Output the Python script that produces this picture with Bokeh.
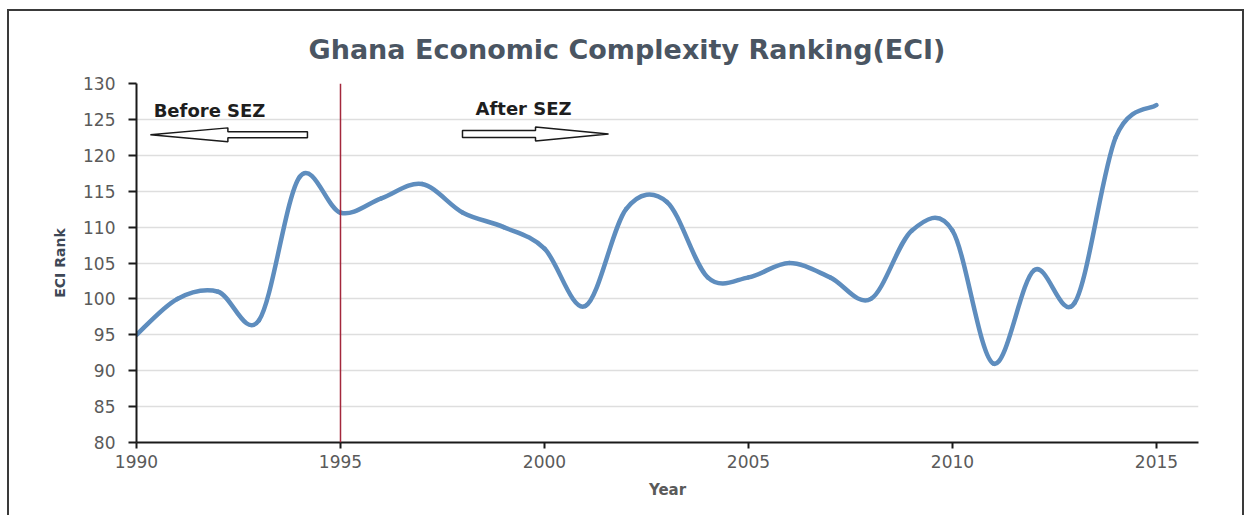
import numpy as np
from bokeh.plotting import figure
from bokeh.models import Range1d, FixedTicker, Span
from bokeh.core.properties import value
from bokeh.embed import file_html
from bokeh.resources import INLINE

# ---- data ----
years = [1990, 1991, 1992, 1993, 1994, 1995, 1996, 1997, 1998, 1999, 2000, 2001, 2002,
         2003, 2004, 2005, 2006, 2007, 2008, 2009, 2010, 2011, 2012, 2013, 2014, 2015]
eci_rank = [95, 100, 101, 97, 117, 112, 114, 116, 112, 110, 107, 99, 112.5,
            113.5, 103, 103, 105, 103, 100, 109.5, 109.5, 91, 104, 99.5, 122.5, 127]
x_ticks = [1990, 1995, 2000, 2005, 2010, 2015]
y_ticks = [80, 85, 90, 95, 100, 105, 110, 115, 120, 125, 130]
sez_year = 1995
title_text = "Ghana Economic Complexity Ranking(ECI)"
x_label = "Year"
y_label = "ECI Rank"
before_label = "Before SEZ"
after_label = "After SEZ"

# ---- figure ----
p = figure(width=1237, height=510,
           x_range=Range1d(1990, 2016.03), y_range=Range1d(80, 130),
           output_backend="svg", toolbar_location=None,
           min_border_left=127, min_border_right=48,
           min_border_top=72, min_border_bottom=79)
p.margin = (9, 0, 0, 7)
p.styles = {"border-top": "2px solid #3a3a3a", "border-left": "2px solid #3a3a3a",
            "border-right": "2px solid #3a3a3a"}
p.outline_line_color = None
p.background_fill_color = "white"
p.border_fill_color = "white"

p.title.text = title_text
p.title.align = "left"
p.title.offset = 172
p.title.standoff = 37
p.title.text_font = "DejaVu Sans"
p.title.text_font_style = "bold"
p.title.text_font_size = "27px"
p.title.text_color = "#4a5562"

# axes
for ax in (p.xaxis, p.yaxis):
    ax.axis_line_color = "#1a1a1a"
    ax.axis_line_width = 2
    ax.major_tick_line_color = "#1a1a1a"
    ax.major_tick_line_width = 2
    ax.minor_tick_line_color = None
    ax.major_tick_in = 0
    ax.major_label_text_font = "DejaVu Sans"
    ax.major_label_text_font_size = "17px"
    ax.major_label_text_color = "#5a5a5a"
    ax.axis_label_text_font = "DejaVu Sans"
    ax.axis_label_text_font_style = "bold"

p.xaxis.ticker = FixedTicker(ticks=x_ticks)
p.yaxis.ticker = FixedTicker(ticks=y_ticks)
p.xaxis.major_tick_out = 6
p.yaxis.major_tick_out = 8
p.xaxis.major_label_standoff = 6
p.yaxis.major_label_standoff = 13
p.xaxis.axis_label = x_label
p.xaxis.axis_label_text_font_size = "15px"
p.xaxis.axis_label_text_color = "#5a5a5a"
p.xaxis.axis_label_standoff = 10
p.yaxis.axis_label = y_label
p.yaxis.axis_label_text_font_size = "14px"
p.yaxis.axis_label_text_color = "#3e4856"
p.yaxis.axis_label_standoff = 12

p.xgrid.grid_line_color = None
p.ygrid.grid_line_color = "#dedede"
p.ygrid.grid_line_width = 1.5

# SEZ marker line
p.add_layout(Span(location=sez_year, dimension="height", line_color="#a3283c", line_width=1.5))

# smoothed line (Excel-style Catmull-Rom Bezier segments)
xa = np.array(years, dtype=float)
ya = np.array(eci_rank, dtype=float)
xp = np.concatenate([[xa[0]], xa, [xa[-1]]])
yp = np.concatenate([[ya[0]], ya, [ya[-1]]])
n = len(xa)
x0, y0 = xa[:-1], ya[:-1]
x1, y1 = xa[1:], ya[1:]
cx0 = x0 + (xp[2:n + 1] - xp[0:n - 1]) / 6.0
cy0 = y0 + (yp[2:n + 1] - yp[0:n - 1]) / 6.0
cx1 = x1 - (xp[3:n + 2] - xp[1:n]) / 6.0
cy1 = y1 - (yp[3:n + 2] - yp[1:n]) / 6.0
p.bezier(x0=x0, y0=y0, x1=x1, y1=y1, cx0=cx0, cy0=cy0, cx1=cx1, cy1=cy1,
         line_color="#5e8dbe", line_width=4.5, line_cap="round")

# hollow block arrows (annotation positions in data units)
def arrow(tail, tip, yc, shaft_h, head_h, head_len):
    d = 1.0 if tip > tail else -1.0
    base = tip - d * head_len
    xs = [tail, base, base, tip, base, base, tail]
    ys = [yc + shaft_h, yc + shaft_h, yc + head_h, yc, yc - head_h, yc - shaft_h, yc - shaft_h]
    return xs, ys

bx, by = arrow(1994.19, 1990.34, 122.85, 0.42, 0.97, 1.9)
ax_, ay_ = arrow(1997.99, 2001.57, 122.97, 0.5, 0.97, 1.79)
for xs, ys in ((bx, by), (ax_, ay_)):
    p.patch(xs, ys, fill_color="white", line_color="#1a1a1a", line_width=1.5)

p.text(x=[1990.42], y=[126.3], text=[before_label], text_font=value("DejaVu Sans"),
       text_font_style="bold", text_font_size="18px", text_color="#1e1e1e",
       text_baseline="alphabetic", text_align="left")
p.text(x=[1998.31], y=[126.55], text=[after_label], text_font=value("DejaVu Sans"),
       text_font_style="bold", text_font_size="18px", text_color="#1e1e1e",
       text_baseline="alphabetic", text_align="left")

open("out.html", "w").write(file_html(p, INLINE))
